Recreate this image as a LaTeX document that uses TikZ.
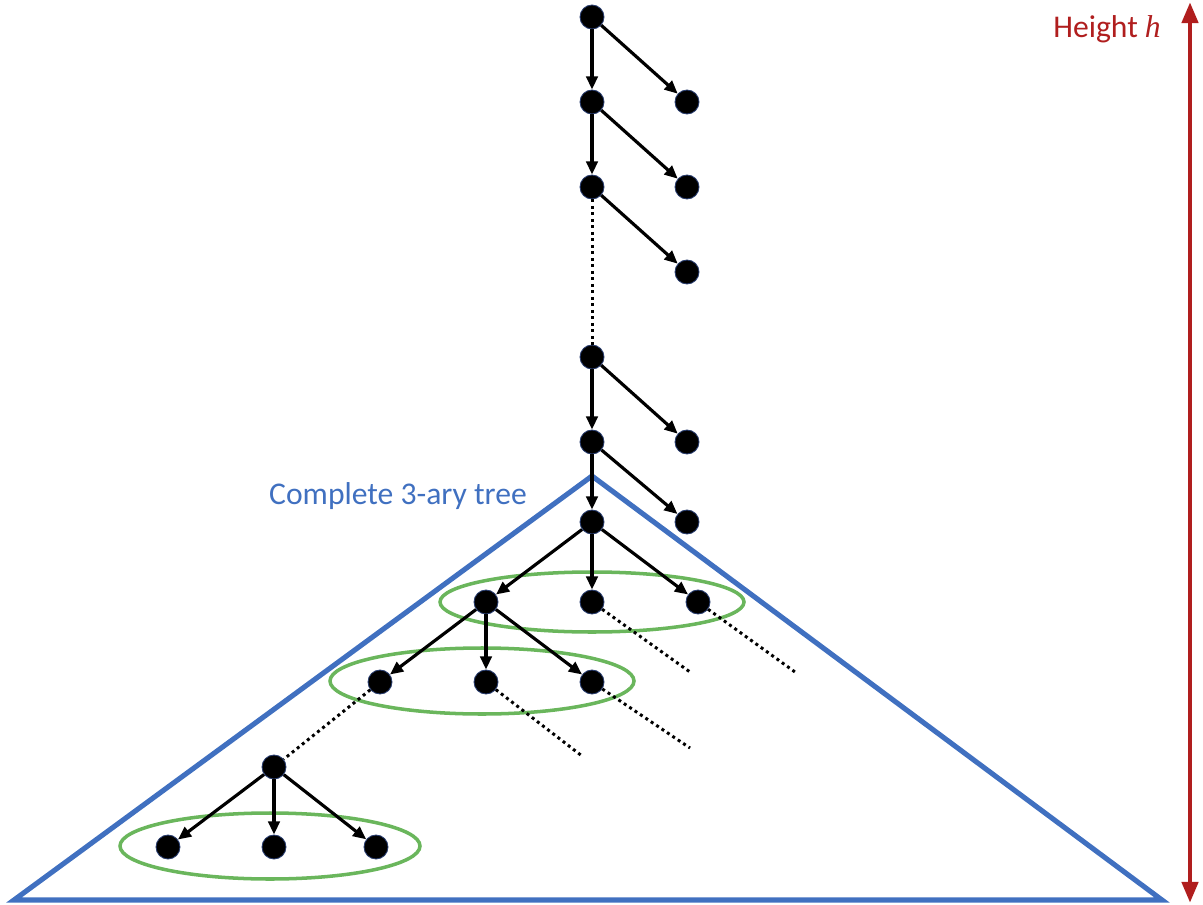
\documentclass[tikz,border=0pt]{standalone}
\usepackage{fontspec}
\setmainfont{Carlito}
\newfontfamily\mathlike{Liberation Serif}
\usetikzlibrary{arrows.meta}
\definecolor{treeblue}{RGB}{64,112,192}
\definecolor{ringgreen}{RGB}{106,182,92}
\definecolor{heightred}{RGB}{176,30,30}
\definecolor{rimblue}{RGB}{40,60,110}
\begin{document}
\begin{tikzpicture}[x=0.02cm,y=-0.02cm,
  vtx/.style={circle,fill=black,draw=rimblue,line width=0.5pt,minimum size=0.48cm,inner sep=0pt},
  edge/.style={line width=1.8pt,-{Triangle[length=7.5pt,width=6.5pt]}},
  dots/.style={line width=1.7pt,dotted},
  ring/.style={draw=ringgreen,line width=2pt}]
\useasboundingbox (0,0) rectangle (1203,905);

% triangle enclosing the complete 3-ary tree
\draw[treeblue,line width=2.9pt,line join=miter] (592,476) -- (1162,900) -- (14,900) -- cycle;
\node[text=treeblue,font=\fontsize{18}{21}\selectfont,anchor=base west] (label) at (263,504) {Complete 3-ary tree};

% height arrow
\coordinate (htop) at (1190,2);
\coordinate (hbot) at (1190,903);
\draw[heightred,line width=2.8pt,{Triangle[length=12pt,width=9pt]}-{Triangle[length=12pt,width=9pt]}] (htop) -- (hbot);
\node[text=heightred,font=\fontsize{18}{21}\selectfont,anchor=base east] (hlabel) at (1167,38) {Height {\mathlike\itshape h}};

% green rings around sibling groups
\draw[ring] (592,602) ellipse (152 and 30);
\draw[ring] (482,681) ellipse (152 and 33);
\draw[ring] (270,846) ellipse (150 and 33);

% spine of the tree
\node[vtx] (s1) at (592,17) {};
\node[vtx] (s2) at (592,102) {};
\node[vtx] (s3) at (592,187) {};
\node[vtx] (s4) at (592,357) {};
\node[vtx] (s5) at (592,442) {};
\node[vtx] (s6) at (592,522) {};
% leaves hanging off the spine
\node[vtx] (r1) at (687,102) {};
\node[vtx] (r2) at (687,187) {};
\node[vtx] (r3) at (687,272) {};
\node[vtx] (r4) at (687,442) {};
\node[vtx] (r5) at (687,522) {};
% first level of the 3-ary tree
\node[vtx] (a1) at (486,602) {};
\node[vtx] (a2) at (592,602) {};
\node[vtx] (a3) at (698,602) {};
% second level
\node[vtx] (b1) at (380,682) {};
\node[vtx] (b2) at (486,682) {};
\node[vtx] (b3) at (592,682) {};
% deepest internal node and its children
\node[vtx] (d) at (274,767) {};
\node[vtx] (c1) at (168,847) {};
\node[vtx] (c2) at (274,847) {};
\node[vtx] (c3) at (376,847) {};

% loose ends of the dotted continuations
\coordinate (e1) at (690,672);
\coordinate (e2) at (795,672);
\coordinate (e3) at (582,756);
\coordinate (e4) at (690,748);

\draw[edge] (s1) -- (s2);
\draw[edge] (s2) -- (s3);
\draw[dots] (s3) -- (s4);
\draw[edge] (s4) -- (s5);
\draw[edge] (s5) -- (s6);
\draw[edge] (s1) -- (r1);
\draw[edge] (s2) -- (r2);
\draw[edge] (s3) -- (r3);
\draw[edge] (s4) -- (r4);
\draw[edge] (s5) -- (r5);

\draw[edge] (s6) -- (a1);
\draw[edge] (s6) -- (a2);
\draw[edge] (s6) -- (a3);
\draw[edge] (a1) -- (b1);
\draw[edge] (a1) -- (b2);
\draw[edge] (a1) -- (b3);
\draw[edge] (d) -- (c1);
\draw[edge] (d) -- (c2);
\draw[edge] (d) -- (c3);

\draw[dots] (a2) -- (e1);
\draw[dots] (a3) -- (e2);
\draw[dots] (b2) -- (e3);
\draw[dots] (b3) -- (e4);
\draw[dots] (b1) -- (d);
\end{tikzpicture}
\end{document}
